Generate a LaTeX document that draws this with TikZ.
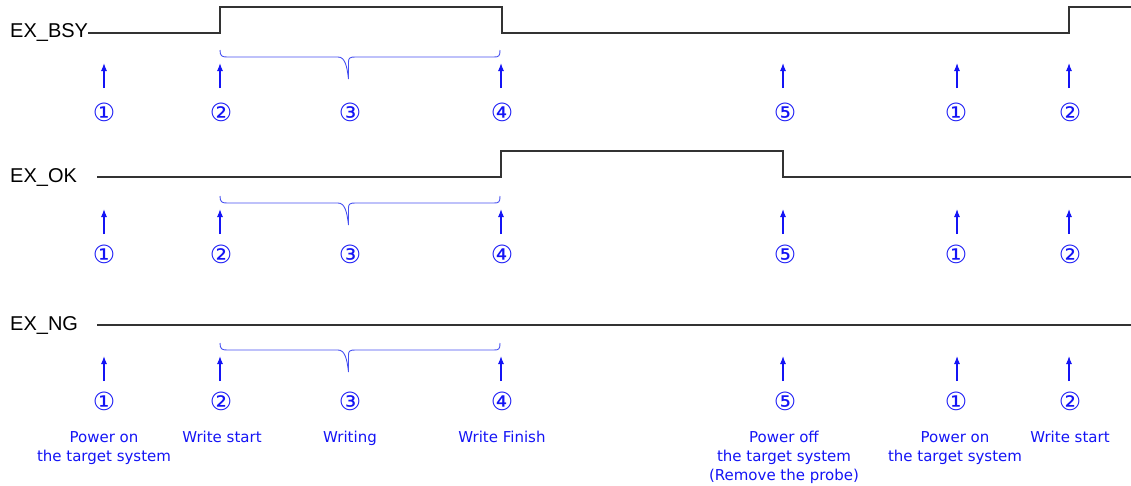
\documentclass[tikz,border=0pt]{standalone}
\usepackage{fontspec}
\setmainfont{DejaVu Sans}
\newfontfamily\sigfont{Liberation Sans}
\usetikzlibrary{arrows.meta}
\definecolor{evblue}{RGB}{20,20,245}
\definecolor{brblue}{RGB}{70,80,240}
\tikzset{
  sig/.style={line width=1.6pt, black!80, line join=miter},
  signame/.style={anchor=west, inner sep=0pt, font=\sigfont\fontsize{20}{22}\selectfont},
  evarrow/.style={evblue, line width=1.1pt, -{Latex[length=8pt,width=6pt]}},
  evnum/.style={evblue, inner sep=0pt, font=\fontsize{25}{27}\selectfont},
  evtext/.style={evblue, inner sep=0pt, align=center, font=\fontsize{15}{19}\selectfont},
  brace/.style={brblue, line width=0.9pt}
}
\begin{document}
\begin{tikzpicture}[x=1pt, y=-1pt]
\useasboundingbox (0,0) rectangle (1131,485);

% signal names
\node[signame] (bsy) at (10,33) {EX\_BSY};
\node[signame] (ok)  at (10,177) {EX\_OK};
\node[signame] (ng)  at (10,325) {EX\_NG};

% waveforms
\draw[sig] (bsy.east) -- (220,33) -- (220,7) -- (502,7) -- (502,33) -- (1069,33) -- (1069,7) -- (1131,7);
\draw[sig] (97,177) -- (501,177) -- (501,151) -- (783,151) -- (783,177) -- (1131,177);
\draw[sig] (97,325) -- (1131,325);

% events per row: brace, arrows and circled numbers
\foreach \r/\dy/\dn in {a/0/0, b/146/142, c/293/289} {
  \begin{scope}[yshift=-\dy pt]
    \draw[brace] (220,50) .. controls (220,56) and (222,57) .. (227,57)
      -- (338,57) .. controls (345,57) and (347,66) .. (348.5,79)
      -- (348.5,62) .. controls (348.5,58) and (350,57) .. (355,57)
      -- (494,57) .. controls (499,57) and (500,56) .. (500,50);
    \foreach \n/\x in {1/104, 2/220, 4/501, 5/783, 6/957, 7/1069} {
      \coordinate (t\r\n) at (\x,88);
      \coordinate (h\r\n) at (\x,63);
      \draw[evarrow] (t\r\n) -- (h\r\n);
    }
  \end{scope}
  \begin{scope}[yshift=-\dn pt]
    \node[evnum] (n\r1) at (104,112) {①};
    \node[evnum] (n\r2) at (221,112) {②};
    \node[evnum] (n\r3) at (350,112) {③};
    \node[evnum] (n\r4) at (502,112) {④};
    \node[evnum] (n\r5) at (785,112) {⑤};
    \node[evnum] (n\r6) at (956,112) {①};
    \node[evnum] (n\r7) at (1070,112) {②};
  \end{scope}
}

% event descriptions
\node[evtext, anchor=north] (d1) at (104,431) {Power on\\the target system};
\node[evtext, anchor=north] (d2) at (222,431) {Write start};
\node[evtext, anchor=north] (d3) at (350,431) {Writing};
\node[evtext, anchor=north] (d4) at (502,431) {Write Finish};
\node[evtext, anchor=north] (d5) at (784,431) {Power off\\the target system\\(Remove the probe)};
\node[evtext, anchor=north] (d6) at (955,431) {Power on\\the target system};
\node[evtext, anchor=north] (d7) at (1070,431) {Write start};
\end{tikzpicture}
\end{document}
